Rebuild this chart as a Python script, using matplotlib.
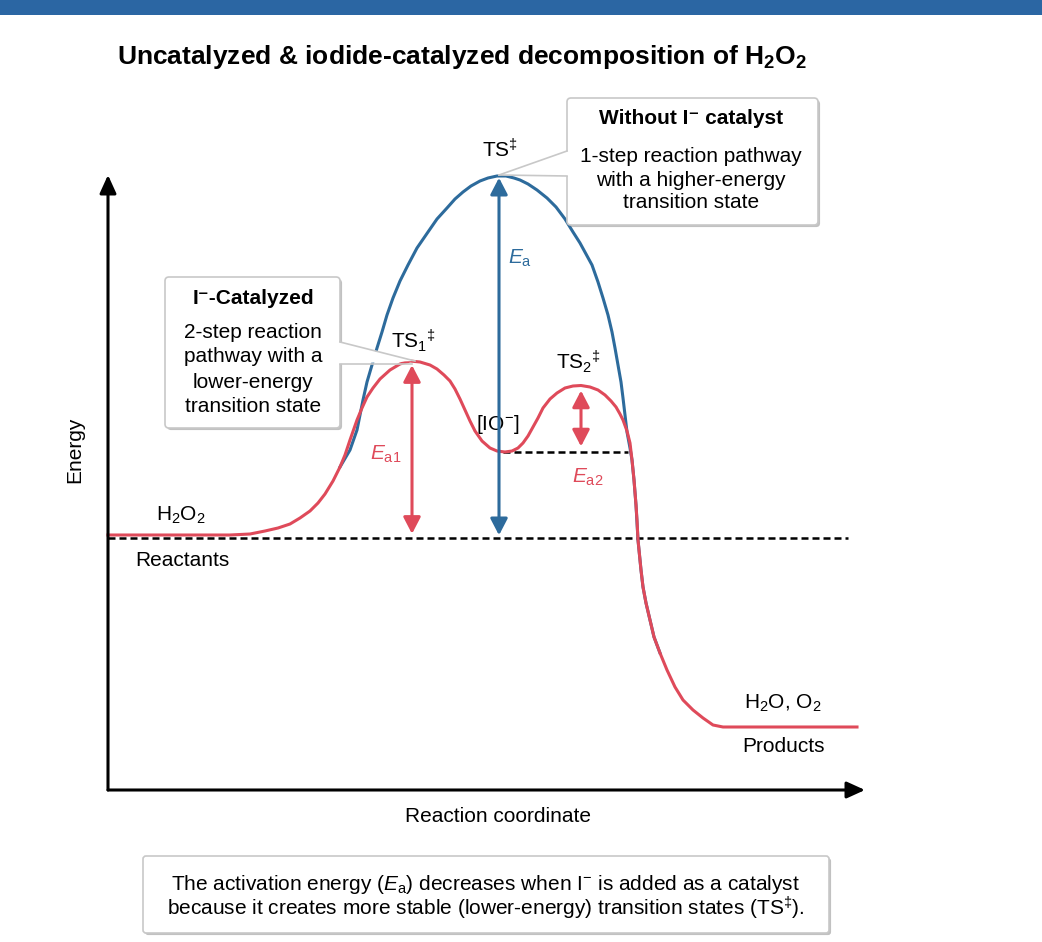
import matplotlib
matplotlib.use("Agg")
import matplotlib.pyplot as plt
from matplotlib.patches import FancyBboxPatch, Rectangle, Polygon
from matplotlib import patheffects as pe

plt.rcParams['font.family'] = ['Liberation Sans', 'DejaVu Sans']
plt.rcParams['mathtext.fontset'] = 'custom'
plt.rcParams['mathtext.rm'] = 'Liberation Sans'
plt.rcParams['mathtext.it'] = 'Liberation Sans:italic'
plt.rcParams['mathtext.bf'] = 'Liberation Sans:bold'

# reaction coordinate / energy (arbitrary units)
cat_x = [0, 92, 122, 142, 157, 170, 182, 192, 202, 210, 217, 225, 232, 237, 242, 249, 254, 259,
         265, 272, 282, 292, 302, 312, 322, 329, 336, 342, 347, 352, 357, 362, 367, 374, 382,
         389, 397, 404, 410, 415, 420, 425, 430, 435, 442, 449, 457, 465, 473, 482, 490, 497,
         503, 508, 512, 515, 519, 522, 524, 526, 528, 529, 530, 533, 535, 538, 542, 546, 552,
         559, 567, 575, 585, 595, 605, 615, 749]
cat_energy = [255, 255, 255, 256, 259, 262, 266, 272, 279, 287, 296, 309, 323, 335, 350, 370, 382,
              393, 402, 411, 420, 426, 429, 428, 425, 421, 415, 409, 401, 391, 380, 369, 359, 349,
              342, 339, 338, 339, 342, 347, 354, 363, 372, 382, 391, 397, 402, 404, 404.5, 403,
              400, 395, 389, 383, 376, 370, 359, 347, 330, 310, 285, 270, 250, 220, 203, 187, 170,
              153, 137, 120, 103, 90, 80, 72, 65, 63, 63]

uncat_x = [232, 242, 249, 255, 259, 264, 269, 274, 279, 285, 292, 300, 309, 320, 329, 339, 347,
           355, 363, 372, 380, 389, 398, 406, 412, 420, 429, 439, 448, 457, 465, 472, 478, 484,
           490, 495, 500, 504, 507, 510, 513, 515, 517, 519, 522, 524, 526, 528, 530, 533, 535,
           538, 542, 546, 552]
uncat_energy = [323, 340, 360, 390, 408, 425, 442, 458, 475, 492, 509, 525, 542, 558, 571, 582,
                591, 598, 604, 609, 612, 614, 614, 612, 610, 606, 600, 592, 583, 571, 558, 547,
                536, 525, 508, 492, 475, 458, 442, 425, 408, 392, 375, 358, 342, 330, 310, 285,
                250, 220, 203, 187, 170, 153, 137]

E_reactants = 252
E_products = 63
E_TS = 615
E_TS1 = 429
E_int = 338
E_TS2 = 405
x_TS1 = 304
x_TS = 391
x_int = 390
x_TS2 = 473
x_int_dash_end = 520
x_end_dash = 740
x_axis_end = 757
y_axis_end = 615

RED = '#df4a5a'
BLUE = '#2d6b9c'
FS = 15

fig = plt.figure(figsize=(10.42, 9.42), dpi=100)
ax = fig.add_axes([0, 0, 1, 1])
ax.set_xlim(-108, 934)
ax.set_ylim(-152, 790)
ax.axis('off')

def P(px, py):
    return px - 108, 790 - py

# top band
ax.add_patch(Rectangle(P(0, 15), 1042, 15, color='#2b66a3', lw=0, zorder=1))

ax.text(*P(462, 57), r'Uncatalyzed & iodide-catalyzed decomposition of H$_\mathbf{2}$O$_\mathbf{2}$',
        ha='center', va='center', fontsize=19, fontweight='bold')

# axes arrows
arr = dict(arrowstyle='-|>,head_length=0.55,head_width=0.25', lw=2.2, color='black',
           mutation_scale=20, shrinkA=0, shrinkB=0)
ax.annotate('', xy=(0, y_axis_end), xytext=(0, 0), arrowprops=arr, zorder=5)
ax.annotate('', xy=(x_axis_end, 0), xytext=(0, 0), arrowprops=arr, zorder=5)
ax.text(*P(75, 450), 'Energy', rotation=90, ha='center', va='center', fontsize=FS)
ax.text(*P(498, 816), 'Reaction coordinate', ha='center', va='center', fontsize=FS)

# dashed reference levels
ax.plot([0, x_end_dash], [E_reactants, E_reactants], color='black', lw=1.8,
        dashes=(2.8, 1.6), zorder=2)
ax.plot([x_int + 5, x_int_dash_end], [E_int, E_int], color='black', lw=1.8,
        dashes=(2.8, 1.6), zorder=2)

# curves
ax.plot(uncat_x, uncat_energy, color=BLUE, lw=2.2, zorder=3, solid_joinstyle='round')
ax.plot(cat_x, cat_energy, color=RED, lw=2.2, zorder=4, solid_joinstyle='round')

# activation energy arrows
def dbl(x, lo, hi, c, gap):
    ax.annotate('', xy=(x, hi), xytext=(x, lo),
                arrowprops=dict(arrowstyle='<|-|>,head_length=0.5,head_width=0.26', lw=2.2,
                                color=c, mutation_scale=20, shrinkA=gap, shrinkB=gap),
                zorder=4)

dbl(x_TS1, E_reactants, E_TS1, RED, 3)
dbl(x_TS, E_reactants, E_TS, BLUE, 2)
dbl(x_TS2, E_int, E_TS2, RED, 4)

# labels on the diagram
ax.text(*P(500, 150), r'TS$^{\ddag}$', ha='center', va='center', fontsize=FS)
ax.text(*P(520, 258), r'$E_\mathrm{a}$', ha='center', va='center', fontsize=FS, color=BLUE)
ax.text(*P(413, 341), r'TS$_1$$^{\ddag}$', ha='center', va='center', fontsize=FS)
ax.text(*P(578, 362), r'TS$_2$$^{\ddag}$', ha='center', va='center', fontsize=FS)
ax.text(*P(498, 425), r'[IO$^{-}$]', ha='center', va='center', fontsize=FS)
ax.text(*P(386, 454), r'$E_\mathrm{a1}$', ha='center', va='center', fontsize=FS, color=RED)
ax.text(*P(588, 477), r'$E_\mathrm{a2}$', ha='center', va='center', fontsize=FS, color=RED)
ax.text(*P(181, 515), r'H$_2$O$_2$', ha='center', va='center', fontsize=FS)
ax.text(*P(182, 560), 'Reactants', ha='center', va='center', fontsize=FS)
ax.text(*P(783, 703), r'H$_2$O, O$_2$', ha='center', va='center', fontsize=FS)
ax.text(*P(783, 747), 'Products', ha='center', va='center', fontsize=FS)

shadow = [pe.withSimplePatchShadow(offset=(1.5, -1.5), shadow_rgbFace='#777777', alpha=0.45)]

def callout(x0, y0, x1, y1, wedge, edges):
    bx, by = P(x0, y1)
    box = FancyBboxPatch((bx, by), x1 - x0, y1 - y0, boxstyle='round,pad=0,rounding_size=4',
                         fc='white', ec='#c8c8c8', lw=1.2, zorder=6, path_effects=shadow)
    ax.add_patch(box)
    ax.add_patch(Polygon([P(*p) for p in wedge], closed=True, fc='white', ec='none', zorder=7))
    for a, b in edges:
        xa, ya = P(*a)
        xb, yb = P(*b)
        ax.plot([xa, xb], [ya, yb], color='#c8c8c8', lw=1.2, zorder=7)

# right callout
callout(567, 98, 818, 225,
        [(569, 151), (499, 175), (569, 176)],
        [((567, 151), (499, 175)), ((567, 176), (499, 175))])
ax.text(*P(691, 119), 'Without I\u207b catalyst', ha='center', va='center', fontsize=FS,
        fontweight='bold', zorder=8)
for i, line in enumerate(['1-step reaction pathway', 'with a higher-energy', 'transition state']):
    ax.text(*P(691, 157 + 23 * i), line, ha='center', va='center', fontsize=FS, zorder=8)

# left callout
callout(165, 277, 340, 428,
        [(338, 342), (415, 361), (338, 364)],
        [((340, 342), (415, 361)), ((340, 364), (412, 364))])
ax.text(*P(253, 298), 'I\u207b-Catalyzed', ha='center', va='center', fontsize=FS,
        fontweight='bold', zorder=8)
for i, line in enumerate(['2-step reaction', 'pathway with a', 'lower-energy', 'transition state']):
    ax.text(*P(253, 332 + 25 * i), line, ha='center', va='center', fontsize=FS, zorder=8)

# bottom note
bx, by = P(143, 933)
ax.add_patch(FancyBboxPatch((bx, by), 686, 77, boxstyle='round,pad=0,rounding_size=3',
                            fc='white', ec='#c8c8c8', lw=1.2, zorder=6, path_effects=shadow))
ax.text(*P(486, 884), r'The activation energy ($E_\mathrm{a}$) decreases when I$^{-}$ is added as a catalyst',
        ha='center', va='center', fontsize=FS, zorder=8)
ax.text(*P(486, 908), r'because it creates more stable (lower-energy) transition states (TS$^{\ddag}$).',
        ha='center', va='center', fontsize=FS, zorder=8)

fig.savefig('out.png', dpi=100)
